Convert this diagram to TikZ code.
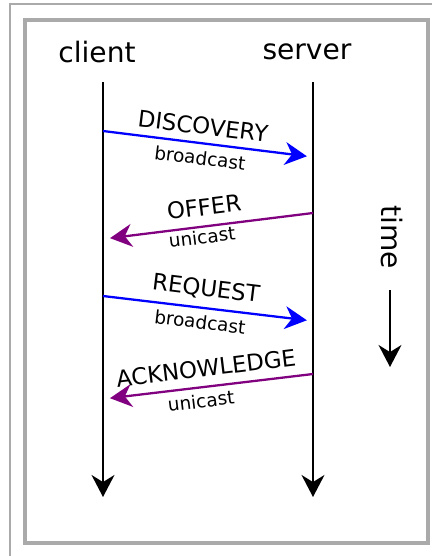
\documentclass[tikz,border=0pt]{standalone}
\usepackage{fontspec}
\setmainfont{DejaVu Sans}
\usetikzlibrary{arrows.meta}
\definecolor{msgblue}{RGB}{0,0,255}
\definecolor{msgpurple}{RGB}{128,0,128}
\definecolor{framegray}{RGB}{170,170,170}
\newcommand{\bigfont}{\fontsize{16}{19}\selectfont}
\newcommand{\msgfont}{\fontsize{13}{15}\selectfont}
\newcommand{\castfont}{\fontsize{10.5}{12}\selectfont}
\tikzset{
  tip/.style={-{Stealth[length=12.5pt,width=13pt,inset=4pt]}},
  lifeline/.style={tip, line width=1.3pt},
  bcast/.style={tip, msgblue, line width=1.3pt, shorten >=3.5pt},
  ucast/.style={tip, msgpurple, line width=1.3pt, shorten >=4pt},
  msglbl/.style={inner sep=0pt, font=\msgfont},
  castlbl/.style={inner sep=0pt, font=\castfont}
}

\begin{document}
\begin{tikzpicture}[x=0.02cm, y=-0.02cm]
			\useasboundingbox (0,0) rectangle (432,556);

			% Frames
			\draw[framegray, line width=1pt] (10,556) -- (10,4) -- (432,4);
			\draw[framegray, line width=2.2pt] (25,20) rectangle (428,543);

			% Hosts
			\node[font=\bigfont] (client) at (97,52) {client};
			\node[font=\bigfont] (server) at (307,52) {server};
			\coordinate (cTop) at (103,82);
			\coordinate (cBot) at (103,497);
			\coordinate (sTop) at (313,82);
			\coordinate (sBot) at (313,497);
			\draw[lifeline] (cTop) -- (cBot);
			\draw[lifeline] (sTop) -- (sBot);

			% Message ends
			\coordinate (c1) at (103,131);
			\coordinate (s1) at (313,157);
			\coordinate (s2) at (313,213);
			\coordinate (c2) at (103,239);
			\coordinate (c3) at (103,296);
			\coordinate (s3) at (313,321);
			\coordinate (s4) at (313,374);
			\coordinate (c4) at (103,399);

			% Messages
			\draw[bcast] (c1) -- (s1);
			\node[msglbl, rotate=-7] (discover) at (203,126) {DISCOVERY};
			\node[castlbl, rotate=-7] (bc1) at (200,158) {broadcast};

			\draw[ucast] (s2) -- (c2);
			\node[msglbl, rotate=7] (offer) at (204,207) {OFFER};
			\node[castlbl, rotate=7] (uc1) at (202,237) {unicast};

			\draw[bcast] (c3) -- (s3);
			\node[msglbl, rotate=-7] (request) at (206,289) {REQUEST};
			\node[castlbl, rotate=-7] (bc2) at (200,322) {broadcast};

			\draw[ucast] (s4) -- (c4);
			\node[msglbl, rotate=7] (ack) at (206,368) {ACKNOWLEDGE};
			\node[castlbl, rotate=7] (uc2) at (201,401) {unicast};

			% Time axis
			\node[font=\bigfont, rotate=-90] (time) at (392,237) {time};
			\coordinate (tTop) at (390,290);
			\coordinate (tBot) at (390,367);
			\draw[lifeline] (tTop) -- (tBot);
		\end{tikzpicture}
\end{document}
